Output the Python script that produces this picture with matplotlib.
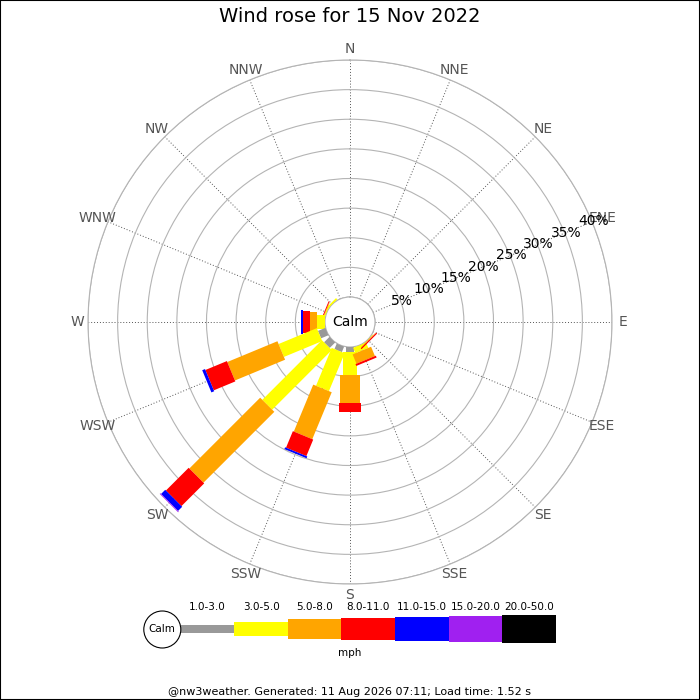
import numpy as np
import matplotlib
matplotlib.use('Agg')
import matplotlib.pyplot as plt
from matplotlib.patches import Circle, Rectangle

# ---------------- data ----------------
directions = ['N', 'NNE', 'NE', 'ENE', 'E', 'ESE', 'SE', 'SSE',
              'S', 'SSW', 'SW', 'WSW', 'W', 'WNW', 'NW', 'NNW']
speed_bins = ['1.0-3.0', '3.0-5.0', '5.0-8.0', '8.0-11.0',
              '11.0-15.0', '15.0-20.0', '20.0-50.0']
# percentage of time, per direction, per speed class (mph)
pct_1_3   = [0, 0, 0, 0, 0, 0, 0,   0,    0.84, 1.00, 1.30, 1.35, 0,    0,    0,   0]
pct_3_5   = [0, 0, 0, 0, 0, 0, 0.1, 1.00, 3.89, 6.92, 14.23, 6.99, 1.30, 0.20, 0.3, 0]
pct_5_8   = [0, 0, 0, 0, 0, 0, 0.1, 1.70, 4.72, 8.57, 16.91, 9.16, 1.23, 0.10, 0,   0]
pct_8_11  = [0, 0, 0, 0, 0, 0, 0.2, 0.34, 1.44, 3.02, 5.42, 3.93, 1.13, 0.15, 0,   0]
pct_11_15 = [0, 0, 0, 0, 0, 0, 0,   0,    0,    0.32, 0.99, 0.51, 0.35, 0,    0,   0]
pct_15_20 = [0, 0, 0, 0, 0, 0, 0,   0,    0,    0,    0.15, 0,    0,    0,    0,   0]
pct_20_50 = [0, 0, 0, 0, 0, 0, 0,   0,    0,    0,    0,    0,    0,    0,    0,   0]
ring_pcts = [5, 10, 15, 20, 25, 30, 35, 40]

title = 'Wind rose for 15 Nov 2022'
footer = '@nw3weather. Generated: 11 Aug 2026 07:11; Load time: 1.52 s'
unit = 'mph'

# ---------------- style ----------------
colors = ['#999999', '#ffff00', '#ffa500', '#ff0000', '#0000ff', '#a020f0', '#000000']
bar_px = [8, 14, 20, 22, 24, 26, 28]   # bar thickness in pixels per class
W = H = 700
DPI = 100
PT = 72.0 / DPI

fig = plt.figure(figsize=(W / DPI, H / DPI), dpi=DPI)
fig.patch.set_facecolor('white')

# polar axes geometry (pixels)
cx, cy, R, hole = 350, 322, 262, 25
ax = fig.add_axes([(cx - R) / W, (H - cy - R) / H, 2 * R / W, 2 * R / H],
                  projection='polar')
ax.set_theta_zero_location('N')
ax.set_theta_direction(-1)
rmax = ring_pcts[-1]
rorig = -hole * rmax / (R - hole)
ax.set_ylim(0, rmax)
ax.set_rorigin(rorig)

theta = np.deg2rad(np.arange(len(directions)) * 360.0 / len(directions))
ax.set_xticks(theta)
ax.set_xticklabels([])
ax.set_yticks([0] + ring_pcts)
ax.set_yticklabels([])
ax.tick_params(length=0)
ax.xaxis.grid(True, color='#555555', linestyle=(0, (1, 2)), linewidth=0.7)
ax.yaxis.grid(True, color='#b4b4b4', linestyle='-', linewidth=0.8)
for name, sp in ax.spines.items():
    sp.set_color('#b4b4b4')
    sp.set_linewidth(0.8)

stack = np.array([pct_1_3, pct_3_5, pct_5_8, pct_8_11,
                  pct_11_15, pct_15_20, pct_20_50], dtype=float)

for i in reversed(range(len(directions))):
    base = 0.0
    for k in range(stack.shape[0]):
        v = stack[k, i]
        if v > 0:
            ax.plot([theta[i], theta[i]], [base, base + v], color=colors[k],
                    lw=bar_px[k] * PT, solid_capstyle='butt', zorder=3)
        base += v

# direction labels
px_per_unit = (R - hole) / rmax
r_lab = (273 - hole) / px_per_unit
for t, d in zip(theta, directions):
    ax.text(t, r_lab, d, ha='center', va='center', fontsize=10,
            color='#555555', clip_on=False)

# percentage labels
for p in ring_pcts:
    ax.text(np.deg2rad(67.5), p + 0.2, f'{p}%', ha='center', va='center',
            fontsize=10, color='black', zorder=5)

ax.text(0.5, 0.5, 'Calm', transform=ax.transAxes, ha='center', va='center',
        fontsize=10, color='black')

# ---------------- legend ----------------
lax = fig.add_axes([140 / W, (H - 660) / H, 420 / W, 60 / H])
lax.set_xlim(140, 560)
lax.set_ylim(660, 600)
lax.axis('off')
x0, x1, ymid = 180.7, 555.7, 629.3
bw = (x1 - x0) / len(speed_bins)
centers = x0 + bw * (np.arange(len(speed_bins)) + 0.5)
lax.bar(centers, bar_px, width=bw, bottom=ymid - np.array(bar_px) / 2.0,
        color=colors, linewidth=0)
for c, lab in zip(centers, speed_bins):
    lax.text(c, 607, lab, ha='center', va='center', fontsize=7.5)
lax.add_patch(Circle((162.3, 629.5), 18.5, facecolor='white',
                     edgecolor='black', lw=0.8, zorder=4))
lax.text(162.3, 629.5, 'Calm', ha='center', va='center', fontsize=7.5, zorder=5)
fig.text(0.5, 1 - 653 / H, unit, ha='center', va='center', fontsize=7.5)

fig.text(0.5, 1 - 17 / H, title, ha='center', va='center', fontsize=14)
fig.text(0.5, 1 - 692 / H, footer, ha='center', va='center', fontsize=8)

fig.add_artist(Rectangle((0, 0), 1, 1, transform=fig.transFigure, fill=False,
                         edgecolor='black', lw=1.5))

fig.savefig('out.png', dpi=DPI)
